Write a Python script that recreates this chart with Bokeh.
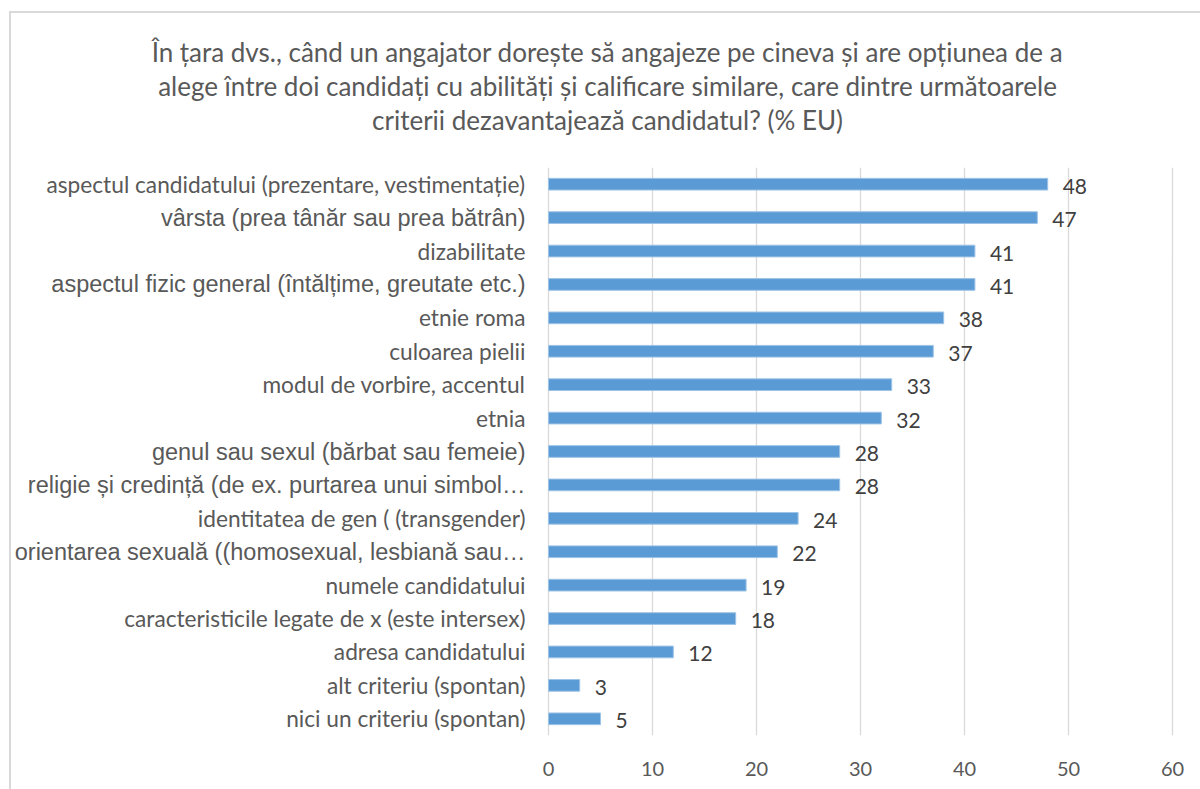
from bokeh.plotting import figure
from bokeh.models import (ColumnDataSource, LabelSet, Title, FactorRange, Range1d,
                          FixedTicker, InlineStyleSheet)
from bokeh.core.properties import value
from bokeh.embed import file_html
from bokeh.resources import INLINE

categories = [
    "aspectul candidatului (prezentare, vestimentație)",
    "vârsta (prea tânăr sau prea bătrân)",
    "dizabilitate",
    "aspectul fizic general (întălțime, greutate etc.)",
    "etnie roma",
    "culoarea pielii",
    "modul de vorbire, accentul",
    "etnia",
    "genul sau sexul (bărbat sau femeie)",
    "religie și credință (de ex. purtarea unui simbol…",
    "identitatea de gen ( (transgender)",
    "orientarea sexuală ((homosexual, lesbiană sau…",
    "numele candidatului",
    "caracteristicile legate de x (este intersex)",
    "adresa candidatului",
    "alt criteriu (spontan)",
    "nici un criteriu (spontan)",
]
values = [48, 47, 41, 41, 38, 37, 33, 32, 28, 28, 24, 22, 19, 18, 12, 3, 5]
arial_rows = [
    "vârsta (prea tânăr sau prea bătrân)",
    "aspectul fizic general (întălțime, greutate etc.)",
    "genul sau sexul (bărbat sau femeie)",
    "religie și credință (de ex. purtarea unui simbol…",
    "orientarea sexuală ((homosexual, lesbiană sau…",
]
x_ticks = [0, 10, 20, 30, 40, 50, 60]
title_lines = [
    "În țara dvs., când un angajator dorește să angajeze pe cineva și are opțiunea de a",
    "alege între doi candidați cu abilități și calificare similare, care dintre următoarele",
    "criterii dezavantajează candidatul? (% EU)",
]

GRAY = "#595959"

src = ColumnDataSource(dict(cat=categories, val=values,
                            lbl=[str(v) for v in values]))
cal = [c for c in categories if c not in arial_rows]
src_cal = ColumnDataSource(dict(cat=cal, x=[0] * len(cal)))
src_ari = ColumnDataSource(dict(cat=arial_rows, x=[0] * len(arial_rows)))

border_css = InlineStyleSheet(css="""
:host { position: relative; }
:host::after {
  content: ""; position: absolute; left: 9px; top: 11px;
  width: calc(100% - 9px); height: calc(100% - 11px);
  border-left: 2px solid #D9D9D9; border-top: 2px solid #D9D9D9;
  box-sizing: border-box; pointer-events: none;
}
""")

# The frame is widened to the left so that the category labels (drawn inside it)
# are not clipped.
PX_PER_UNIT = 10.4
FRAME_L, ZERO_X, SIXTY_X, CANVAS_W = 14, 548, 1172, 1200
p = figure(width=CANVAS_W, height=789,
           y_range=FactorRange(factors=list(reversed(categories))),
           x_range=Range1d(-(ZERO_X - FRAME_L) / PX_PER_UNIT,
                           60 + (CANVAS_W - SIXTY_X) / PX_PER_UNIT),
           output_backend="svg", toolbar_location=None,
           min_border_left=FRAME_L, min_border_right=0,
           min_border_top=167, min_border_bottom=54,
           stylesheets=[border_css])
p.outline_line_color = None
p.background_fill_color = "white"
p.border_fill_color = "white"

p.hbar(y="cat", left=0, right="val", height=0.35, source=src,
       fill_color="#5B9BD5", line_color="#9DC3E6", line_width=1)

p.yaxis.visible = False
p.ygrid.visible = False
p.xaxis.ticker = FixedTicker(ticks=x_ticks)
p.xgrid.ticker = FixedTicker(ticks=x_ticks)
p.xgrid.grid_line_color = "#D9D9D9"
p.xgrid.grid_line_width = 1.3
p.xaxis.axis_line_color = None
p.xaxis.major_tick_line_color = None
p.xaxis.minor_tick_line_color = None
p.xaxis.major_label_text_font = "Lato"
p.xaxis.major_label_text_font_size = "20px"
p.xaxis.major_label_text_color = GRAY
p.xaxis.major_label_standoff = 20

p.add_layout(LabelSet(x="val", y="cat", text="lbl", source=src, x_offset=15,
                      y_offset=-2, text_align="left", text_baseline="middle",
                      text_font=value("Lato"), text_font_size=value("21px"),
                      text_color=value("#404040")))
p.add_layout(LabelSet(x="x", y="cat", text="cat", source=src_cal, x_offset=-23,
                      text_align="right", text_baseline="middle",
                      text_font=value("Lato"), text_font_size=value("22.7px"),
                      text_color=value(GRAY)))
p.add_layout(LabelSet(x="x", y="cat", text="cat", source=src_ari, x_offset=-23,
                      text_align="right", text_baseline="middle",
                      text_font=value("Liberation Sans"), text_font_size=value("23.5px"),
                      text_color=value(GRAY)))

# last title line carries a trailing empty line, which leaves the gap above the bars
title_texts = [title_lines[0], title_lines[1], title_lines[2] + "\n"]
for t in reversed(title_texts):
    p.add_layout(Title(text=t, align="center",
                       text_font="Lato", text_font_size="26px", text_color=GRAY,
                       text_font_style="normal", text_line_height=1.0,
                       standoff=0), "above")

open("out.html", "w").write(file_html(p, INLINE))
